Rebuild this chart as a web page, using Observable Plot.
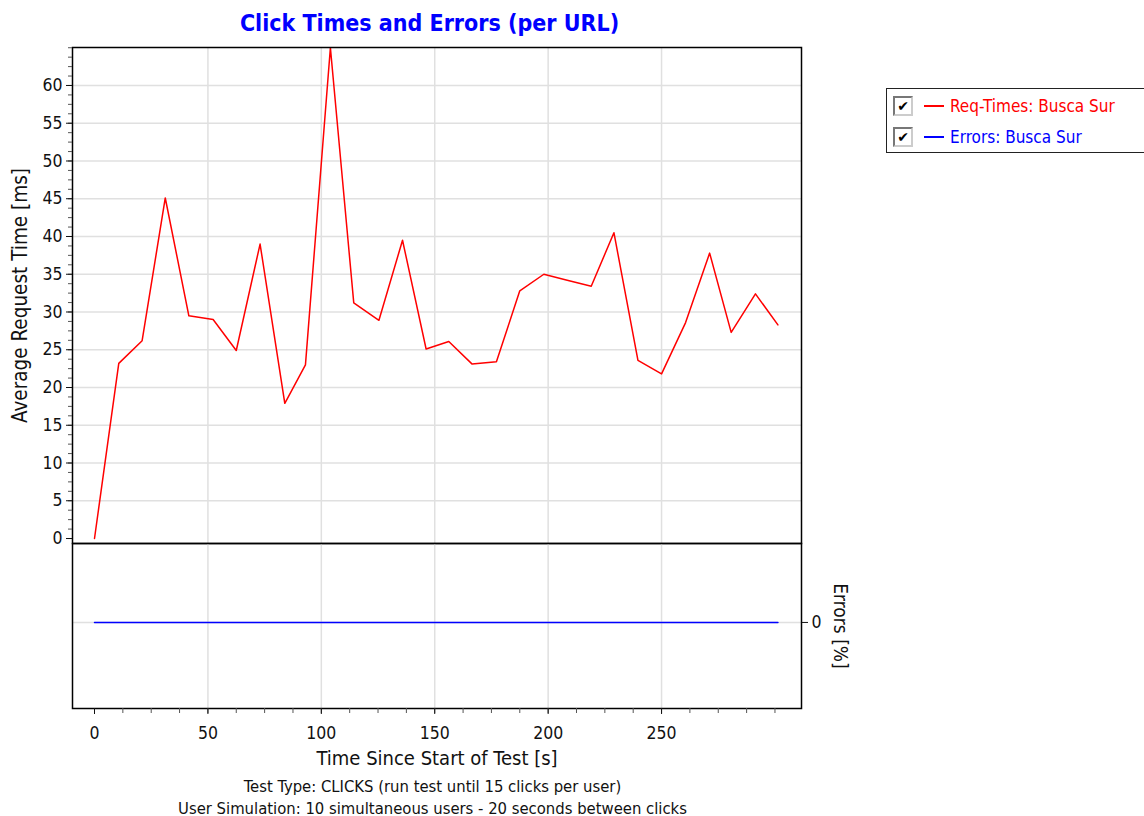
<!DOCTYPE html>
<html>
<head>
<meta charset="utf-8">
<script src="https://cdn.jsdelivr.net/npm/d3@7"></script>
<script src="https://cdn.jsdelivr.net/npm/@observablehq/plot@0.6"></script>
<style>
  html, body { margin: 0; padding: 0; background: #fff; }
  body { width: 1144px; height: 816px; position: relative; overflow: hidden;
         font-family: "Liberation Sans Narrow", "DejaVu Sans Condensed", "Liberation Sans", sans-serif; }
  .abs { position: absolute; }
  #title { left: 65px; width: 729px; top: 10px; text-align: center; color: #0000ff; font-weight: bold; font-size: 23px; }
  #legend { left: 886px; top: 88px; width: 270px; height: 65px; border: 1.5px solid #222; box-sizing: border-box; }
  .row { position: absolute; left: 6px; height: 22px; display: flex; align-items: center; font-size: 17px; white-space: nowrap; }
  .cb { width: 20px; height: 20px; border: 2px solid #777; border-right-color: #ccc; border-bottom-color: #ccc; box-sizing: border-box;
        display: flex; align-items: center; justify-content: center; font-size: 14px; line-height: 1; color: #000; font-family: "DejaVu Sans"; font-weight: bold; margin-right: 11px; }
  .sw { width: 20px; height: 1.5px; margin-right: 6px; }
  .cap { left: 68px; width: 729px; text-align: center; font-size: 16.5px; color: #111; }
</style>
</head>
<body>
<div id="title" class="abs">Click Times and Errors (per URL)</div>
<div id="upper" class="abs" style="left:0;top:0"></div>
<div id="lower" class="abs" style="left:0;top:540px"></div>
<div id="legend" class="abs"></div>
<div class="abs cap" style="top:777px">Test Type: CLICKS (run test until 15 clicks per user)</div>
<div class="abs cap" style="top:799px">User Simulation: 10 simultaneous users - 20 seconds between clicks</div>
<script>
const times = [0, 10.7, 21, 31.2, 41.6, 52.3, 62.5, 73, 83.9, 93, 104, 114.3, 125.4, 135.8, 146.2, 156.2, 166.5, 177.2, 187.5, 198.1, 208.4, 219, 229, 239.6, 250, 260.6, 271.2, 280.7, 291.4, 301.3];
const reqTimes = [0, 23.2, 26.2, 45.1, 29.5, 29.0, 24.9, 39.0, 17.9, 23.0, 65.0, 31.2, 28.9, 39.5, 25.1, 26.1, 23.1, 23.4, 32.8, 35.0, 34.2, 33.4, 40.5, 23.6, 21.8, 28.6, 37.8, 27.3, 32.4, 28.3];
const errors = [0, 0, 0, 0, 0, 0, 0, 0, 0, 0, 0, 0, 0, 0, 0, 0, 0, 0, 0, 0, 0, 0, 0, 0, 0, 0, 0, 0, 0, 0];
const xTicks = [0, 50, 100, 150, 200, 250];
const yTicks = [0, 5, 10, 15, 20, 25, 30, 35, 40, 45, 50, 55, 60];
const errTicks = [0];
const seriesNames = ["Req-Times: Busca Sur", "Errors: Busca Sur"];
const seriesColors = ["#ff0000", "#0000ff"];
const yAxisLabel = "Average Request Time [ms]";
const xAxisLabel = "Time Since Start of Test [s]";
const errAxisLabel = "Errors [%]";

const reqRows = times.map((t, i) => ({t, v: reqTimes[i]}));
const errRows = times.map((t, i) => ({t, v: errors[i]}));
const xMinor = d3.range(0, 300.1, 12.5);
const yMinor = d3.range(0, 65.01, 1.25);
const xDomain = [-9.7, 311.7];
const font = '"Liberation Sans Narrow", "DejaVu Sans Condensed", "Liberation Sans", sans-serif';
const grid = {stroke: "#e0e0e0", strokeOpacity: 1, strokeWidth: 1.5};

const upper = Plot.plot({
  width: 880, height: 544,
  marginLeft: 72, marginRight: 79, marginTop: 47, marginBottom: 1,
  x: {domain: xDomain, axis: null},
  y: {domain: [-0.66, 65.03], axis: null},
  style: {fontFamily: font, fontSize: "17px", background: "transparent", overflow: "visible", color: "#111"},
  marks: [
    Plot.gridX(xTicks.slice(1), grid),
    Plot.gridY(yTicks.slice(1), grid),
    Plot.line(reqRows, {x: "t", y: "v", stroke: seriesColors[0], strokeWidth: 1.5}),
    Plot.frame({stroke: "#000", strokeWidth: 1.5}),
    Plot.axisY(yMinor, {anchor: "left", tickSize: 4, tickFormat: () => "", label: null, stroke: "#555"}),
    Plot.axisY(yTicks, {anchor: "left", tickSize: 6, tickPadding: 4, label: null, fontSize: 17.5}),
    Plot.text([yAxisLabel], {frameAnchor: "left", dx: -52, rotate: -90, textAnchor: "middle", fontSize: 20.5, fill: "#111"})
  ]
});
document.getElementById("upper").appendChild(upper);

const lower = Plot.plot({
  width: 880, height: 228,
  marginLeft: 72, marginRight: 79, marginTop: 3, marginBottom: 60,
  x: {domain: xDomain, axis: null},
  y: {domain: [-1.09, 1], axis: null},
  style: {fontFamily: font, fontSize: "17px", background: "transparent", overflow: "visible", color: "#111"},
  marks: [
    Plot.gridX(xTicks.slice(1), grid),
    Plot.gridY(errTicks, grid),
    Plot.line(errRows, {x: "t", y: "v", stroke: seriesColors[1], strokeWidth: 1.5}),
    Plot.frame({stroke: "#000", strokeWidth: 1.5}),
    Plot.axisX(xMinor, {anchor: "bottom", tickSize: 5, tickFormat: () => "", label: null, stroke: "#555"}),
    Plot.axisX(xTicks, {anchor: "bottom", tickSize: 6, tickPadding: 12, label: null, fontSize: 17.5}),
    Plot.axisY(errTicks, {anchor: "right", tickSize: 6, tickPadding: 4, tickFormat: d => String(d), label: null, fontSize: 17.5}),
    Plot.text([xAxisLabel], {frameAnchor: "bottom", dy: 56, fontSize: 20, fill: "#111"}),
    Plot.text([errAxisLabel], {frameAnchor: "right", dx: 39, rotate: 90, textAnchor: "middle", fontSize: 19, fill: "#111"})
  ]
});
document.getElementById("lower").appendChild(lower);

const legend = document.getElementById("legend");
seriesNames.forEach((name, i) => {
  const row = document.createElement("div");
  row.className = "row";
  row.style.top = (6 + i * 31) + "px";
  row.style.color = seriesColors[i];
  row.innerHTML = `<span class="cb">✔</span><span class="sw" style="background:${seriesColors[i]}"></span><span>${name}</span>`;
  legend.appendChild(row);
});
</script>
</body>
</html>
